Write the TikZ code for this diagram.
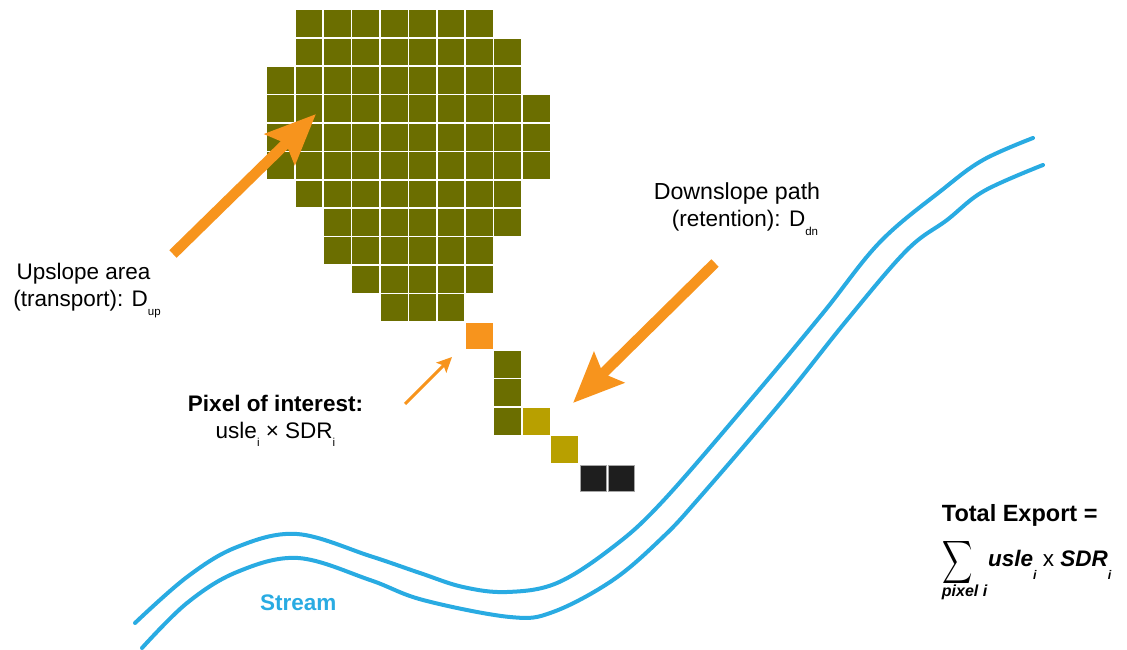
\documentclass[tikz,border=0pt]{standalone}
\usepackage{fontspec}
\setmainfont{Liberation Sans}
\usepackage{graphicx}
\usetikzlibrary{arrows.meta}
\definecolor{cellolive}{HTML}{6B6E00}
\definecolor{cellgold}{HTML}{B8A000}
\definecolor{cellblack}{HTML}{1E1E1E}
\definecolor{arroworange}{HTML}{F7941D}
\definecolor{streamblue}{HTML}{29ABE2}
\newcommand{\lowsub}[2]{\raisebox{-#1}{\fontsize{11.5}{12}\selectfont #2}}
\begin{document}
\begin{tikzpicture}[x=1pt,y=-1pt,
  cell/.style={fill=cellolive, draw=none, minimum size=26.8pt, inner sep=0pt, anchor=north west},
  goldcell/.style={cell, fill=cellgold},
  blackcell/.style={cell, fill=cellblack, draw=gray!70, line width=0.6pt, minimum size=26.2pt},
  poicell/.style={cell, fill=arroworange},
  bigarrow/.style={draw=arroworange, line width=10.5pt, -{Stealth[length=50pt,width=42pt,inset=8pt]}},
  smallarrow/.style={draw=arroworange, line width=3pt, -{Stealth[length=15pt,width=14pt,inset=3pt]}},
  stream/.style={draw=streamblue, line width=4pt, line cap=round},
  lbl/.style={font=\fontsize{22.5}{27}\selectfont, inner sep=0pt, text=black},
  blbl/.style={lbl, font=\fontsize{22.5}{27}\selectfont\bfseries}
]
\useasboundingbox (0,0) rectangle (1127,650);

% upslope area grid
\foreach \r/\a/\b in {0/1/7,1/1/8,2/0/8,3/0/9,4/0/9,5/0/9,6/1/8,7/2/8,8/2/7,9/3/7,10/4/6}{
  \foreach \c in {\a,...,\b}{
    \node[cell] (c-\r-\c) at ({267+28.4*\c},{10+28.4*\r}) {};
  }
}
% pixel of interest and downslope path
\node[poicell] (poi) at ({267+28.4*7},{10+28.4*11}) {};
\node[cell] (d1) at ({267+28.4*8},{10+28.4*12}) {};
\node[cell] (d2) at ({267+28.4*8},{10+28.4*13}) {};
\node[cell] (d3) at ({267+28.4*8},{10+28.4*14}) {};
\node[goldcell] (d4) at ({267+28.4*9},{10+28.4*14}) {};
\node[goldcell] (d5) at ({267+28.4*10},{10+28.4*15}) {};
\node[blackcell] (d6) at ({267.3+28.4*11},{10.3+28.4*16}) {};
\node[blackcell] (d7) at ({267.3+28.4*12},{10.3+28.4*16}) {};

% stream
\draw[stream] plot[smooth, tension=0.6] coordinates {(135,623) (187,577) (237,547) (297,534) (370,556) (420,573) (463,587) (507,592) (557,583) (613,547) (663,501) (753,397) (823,313) (880,242) (942,190) (983,160) (1033,138)};
\draw[stream] plot[smooth, tension=0.6] coordinates {(142,648) (187,603) (237,572) (298,558) (370,580) (423,600) (510,617) (553,612) (613,580) (663,537) (700,497) (783,400) (847,320) (907,250) (947,220) (984,191) (1043,165)};

% arrows
\coordinate (uptail) at (173,254);
\coordinate (uptip) at (316,114);
\coordinate (dntail) at (715,263);
\coordinate (dntip) at (573,403);
\coordinate (poitail) at (405,404);
\coordinate (poitip) at (452,357);
\draw[bigarrow] (uptail) -- (uptip);
\draw[bigarrow] (dntail) -- (dntip);
\draw[smallarrow] (poitail) -- (poitip);

% labels
\node[lbl, anchor=base] (up1) at (83.5,279.3) {Upslope area};
\node[lbl, anchor=base] (up2) at (87,306.5) {(transport): D\lowsub{8.5pt}{up}};
\node[lbl, anchor=base, font=\fontsize{23.2}{27}\selectfont] (dn1) at (737,199.3) {Downslope path};
\node[lbl, anchor=base] (dn2) at (745,226.7) {(retention): D\lowsub{8.5pt}{dn}};
\node[blbl, anchor=base] (pi1) at (275.5,411) {Pixel of interest:};
\node[lbl, anchor=base] (pi2) at (275.5,438.3) {usle\lowsub{8.5pt}{i} × SDR\lowsub{8.5pt}{i}};
\node[blbl, anchor=base west, text=streamblue] (st) at (260,610) {Stream};
\node[blbl, anchor=base west, font=\fontsize{23.5}{27}\selectfont\bfseries] (te) at (941.7,521.7) {Total Export =};
\node[inner sep=0pt] (sig) at (958,562.5) {\scalebox{2.1}[3.0]{$\displaystyle\sum$}};
\node[lbl, anchor=base west] (fm) at (988,566.7) {\bfseries\itshape usle\raisebox{-13pt}{\fontsize{12.5}{13}\selectfont i} \mdseries\upshape x \bfseries\itshape SDR\raisebox{-13pt}{\fontsize{12.5}{13}\selectfont i}};
\node[inner sep=0pt, anchor=base west, font=\fontsize{16}{18}\selectfont\bfseries\itshape] (px) at (941.7,596.7) {pixel i};
\end{tikzpicture}
\end{document}
